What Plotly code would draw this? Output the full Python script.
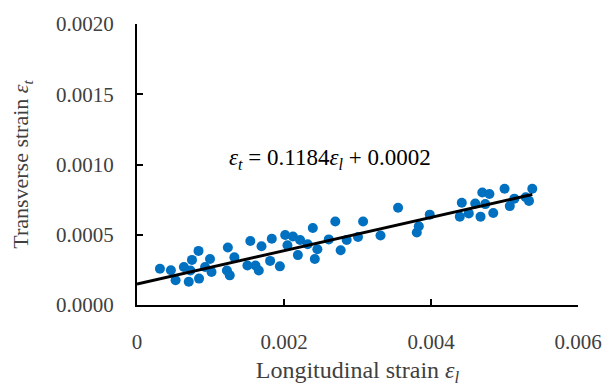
import plotly.graph_objects as go

long_strain = [0.000312, 0.000461, 0.000525, 0.000638, 0.000704, 0.000727, 0.000748, 0.000837,
               0.000844, 0.000926, 0.000993, 0.001014, 0.001223, 0.001236, 0.001262, 0.001325,
               0.001502, 0.001542, 0.001612, 0.001657, 0.001694, 0.001811, 0.001834, 0.001944,
               0.002016, 0.002047, 0.002122, 0.002189, 0.002219, 0.002322, 0.002392, 0.002419,
               0.002454, 0.002609, 0.002698, 0.002771, 0.002853, 0.003007, 0.003076, 0.003313,
               0.003552, 0.003807, 0.003834, 0.003983, 0.004392, 0.004419, 0.004514, 0.004602,
               0.004674, 0.004698, 0.004738, 0.004795, 0.004847, 0.005001, 0.005072, 0.005134,
               0.005289, 0.005333, 0.005378]
trans_strain = [0.000258, 0.000247, 0.000176, 0.000270, 0.000165, 0.000246, 0.000321, 0.000385,
                0.000188, 0.000270, 0.000328, 0.000235, 0.000246, 0.000409, 0.000211, 0.000339,
                0.000281, 0.000455, 0.000281, 0.000246, 0.000418, 0.000314, 0.000472, 0.000275,
                0.000498, 0.000425, 0.000488, 0.000355, 0.000463, 0.000432, 0.000548, 0.000328,
                0.000397, 0.000467, 0.000594, 0.000390, 0.000463, 0.000484, 0.000594, 0.000495,
                0.000692, 0.000516, 0.000561, 0.000643, 0.000629, 0.000728, 0.000652, 0.000723,
                0.000629, 0.000801, 0.000718, 0.000790, 0.000655, 0.000827, 0.000704, 0.000757,
                0.000767, 0.000741, 0.000827]

trend_slope = 0.1184
trend_intercept = 0.00015
trend_x = [0.0, 0.005378]
trend_y = [trend_intercept + trend_slope * v for v in trend_x]

x_ticks = [0, 0.002, 0.004, 0.006]
y_ticks = [0.0, 0.0005, 0.0010, 0.0015, 0.0020]

FONT = "Liberation Serif"

fig = go.Figure()
fig.add_trace(go.Scatter(x=long_strain, y=trans_strain, mode="markers",
                         marker=dict(color="#0070C0", size=10, line=dict(width=0)),
                         showlegend=False))
fig.add_trace(go.Scatter(x=trend_x, y=trend_y, mode="lines",
                         line=dict(color="black", width=3), showlegend=False))

fig.add_annotation(x=0.00262, y=0.00104, xref="x", yref="y", showarrow=False,
                   text="<i>ε<sub>t</sub></i> = 0.1184<i>ε<sub>l</sub></i> + 0.0002",
                   font=dict(family=FONT, size=23, color="black"))

fig.update_layout(
    width=614, height=391,
    margin=dict(l=137, r=25, t=20, b=84),
    paper_bgcolor="white", plot_bgcolor="white",
    font=dict(family=FONT, size=21, color="#404040"),
)
fig.update_xaxes(range=[0, 0.006], tickvals=x_ticks, ticktext=["0", "0.002", "0.004", "0.006"],
                 ticks="inside", ticklen=6, tickwidth=2, tickcolor="black",
                 showline=True, linecolor="black", linewidth=2, showgrid=False, zeroline=False,
                 ticklabelstandoff=17,
                 title=dict(text="Longitudinal strain <i>ε<sub>l</sub></i>", standoff=8,
                            font=dict(family=FONT, size=24, color="#404040")))
fig.update_yaxes(range=[0, 0.0020], tickvals=y_ticks, tickformat=".4f",
                 ticks="inside", ticklen=6, tickwidth=2, tickcolor="black",
                 showline=True, linecolor="black", linewidth=2, showgrid=False, zeroline=False,
                 ticklabelstandoff=17,
                 title=dict(text="Transverse strain <i>ε<sub>t</sub></i>", standoff=21,
                            font=dict(family=FONT, size=22, color="#404040")))

fig.write_html("out.html")
